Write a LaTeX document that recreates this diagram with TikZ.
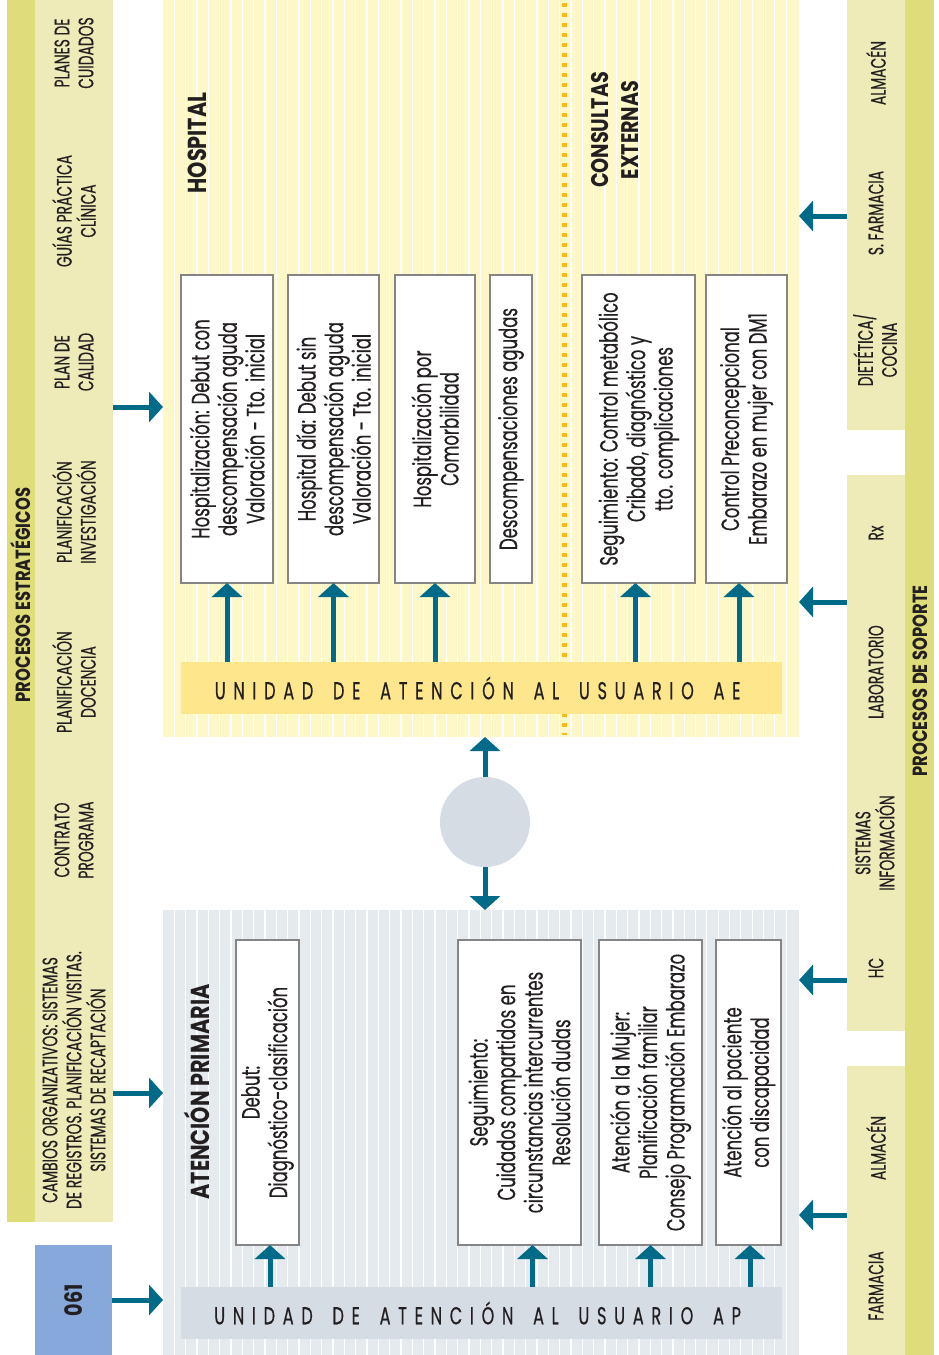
\documentclass[tikz,border=0pt]{standalone}
\usepackage{fontspec}
\setmainfont{Poppins}[FakeStretch=0.66, FakeBold=0.4]
\newfontfamily\headfam{Poppins}[FakeStretch=0.8]
\usetikzlibrary{arrows.meta}

\definecolor{stratdark}{HTML}{DFDC7C}
\definecolor{stratlight}{HTML}{EEEBB9}
\definecolor{hospfill}{HTML}{FEF8C8}
\definecolor{apfill}{HTML}{E5EAEF}
\definecolor{aebarfill}{HTML}{FDE68C}
\definecolor{apbarfill}{HTML}{D5DCE4}
\definecolor{arrowblue}{HTML}{006A89}
\definecolor{dotorange}{HTML}{F9B917}
\definecolor{blueonesix}{HTML}{86A8DA}
\definecolor{boxgrey}{HTML}{858585}
\definecolor{ink}{HTML}{231F20}

\makeatletter
% letter-spaced line of capitals; ~ marks a word gap
\newcommand\spacedcaps[1]{\@tfor\ch:=#1\do{\ch\hskip 7.7pt}\hskip -7.7pt}
\makeatother

\tikzset{
  block/.style={inner sep=0pt, outer sep=0pt, draw=none},
  stepbox/.style={draw=boxgrey, line width=1.5pt, fill=white, rotate=90,
    align=center, inner sep=0pt, outer sep=0pt, text=ink,
    font=\fontsize{25}{27.5}\selectfont},
  slabel/.style={rotate=90, align=center, text=ink, inner sep=0pt,
    font=\fontsize{21}{24}\selectfont},
  heading/.style={rotate=90, align=center, text=ink, inner sep=0pt,
    font=\headfam\bfseries\fontsize{26}{30}\selectfont},
  unitbar/.style={inner sep=0pt, outer sep=0pt, minimum width=601pt,
    minimum height=52pt, text=ink, font=\fontsize{24.5}{24}\selectfont},
  arr/.style={draw=arrowblue, line width=5pt,
    -{Triangle[width=30pt,length=14pt]}},
  stripe/.style={white, line width=1.3pt}
}

\begin{document}
\begin{tikzpicture}[x=1pt, y=-1pt]
\useasboundingbox (0,0) rectangle (939,1355);

% ---- strategic processes column ----
\node[block, fill=stratlight, anchor=north west, minimum width=78pt, minimum height=1222pt] (strat) at (35,0) {};
\node[block, fill=stratdark, anchor=north west, minimum width=28pt, minimum height=1222pt] (stratband) at (7,0) {};
\node[heading, font=\headfam\bfseries\fontsize{20.5}{24}\selectfont] (stratttl) at (21,595) {PROCESOS ESTRATÉGICOS};
\node[slabel] (s1) at (74,53) {PLANES DE\\CUIDADOS};
\node[slabel] (s2) at (74,211) {GUÍAS PRÁCTICA\\CLÍNICA};
\node[slabel] (s3) at (74,362) {PLAN DE\\CALIDAD};
\node[slabel] (s4) at (74,512) {PLANIFICACIÓN\\INVESTIGACIÓN};
\node[slabel] (s5) at (74,682) {PLANIFICACIÓN\\DOCENCIA};
\node[slabel] (s6) at (74,840) {CONTRATO\\PROGRAMA};
\node[slabel] (s7) at (74,1080) {CAMBIOS ORGANIZATIVOS: SISTEMAS\\DE REGISTROS. PLANIFICACIÓN VISITAS.\\SISTEMAS DE RECAPTACIÓN};

% ---- 061 ----
\node[block, fill=blueonesix, rotate=90, minimum width=110pt, minimum height=77pt, text=ink,
      font=\headfam\bfseries\fontsize{24}{26}\selectfont] (n061) at (73.5,1300) {061};

% ---- support processes column ----
\node[block, fill=stratdark, anchor=north west, minimum width=29pt, minimum height=1355pt] (supband) at (905,0) {};
\node[block, fill=stratlight, anchor=north west, minimum width=58pt, minimum height=430pt] (supA) at (847,0) {};
\node[block, fill=stratlight, anchor=north west, minimum width=58pt, minimum height=556pt] (supB) at (847,475) {};
\node[block, fill=stratlight, anchor=north west, minimum width=58pt, minimum height=289pt] (supC) at (847,1066) {};
\node[heading, font=\headfam\bfseries\fontsize{20.5}{24}\selectfont] (supttl) at (920,681) {PROCESOS DE SOPORTE};
\node[slabel] (p1) at (876,73) {ALMACÉN};
\node[slabel] (p2) at (876,213) {S. FARMACIA};
\node[slabel] (p3) at (875,350) {DIETÉTICA/\\COCINA};
\node[slabel] (p4) at (876,533) {Rx};
\node[slabel] (p5) at (876,672) {LABORATORIO};
\node[slabel] (p6) at (875,843) {SISTEMAS\\INFORMACIÓN};
\node[slabel] (p7) at (876,968) {HC};
\node[slabel] (p8) at (876,1148) {ALMACÉN};
\node[slabel] (p9) at (876,1286) {FARMACIA};

% ---- hospital panel ----
\node[block, fill=hospfill, anchor=north west, minimum width=636pt, minimum height=737pt] (hosp) at (163,0) {};
\foreach \k in {1,...,55} \draw[stripe] ({163+11.33*\k},0) -- ++(0,737);
\draw[dotorange, line width=5pt, dash pattern=on 4pt off 6pt] (564,3) -- (564,735);
\node[heading] (hospttl) at (197,143) {HOSPITAL};
\node[heading, font=\headfam\bfseries\fontsize{24}{30}\selectfont] (cettl) at (615,130) {CONSULTAS\\EXTERNAS};

\node[stepbox, minimum width=308pt, minimum height=92pt] (h1) at (227,429)
  {Hospitalización: Debut con\\descompensación aguda\\Valoración - Tto. inicial};
\node[stepbox, minimum width=308pt, minimum height=91pt] (h2) at (333.5,429)
  {Hospital día: Debut sin\\descompensación aguda\\Valoración - Tto. inicial};
\node[stepbox, minimum width=308pt, minimum height=80pt] (h3) at (435,429)
  {Hospitalización por\\Comorbilidad};
\node[stepbox, minimum width=308pt, minimum height=42pt] (h4) at (511,429)
  {Descompensaciones agudas};
\node[stepbox, minimum width=308pt, minimum height=113pt] (h5) at (638.5,429)
  {Seguimiento: Control metabólico\\Cribado, diagnóstico y\\tto. complicaciones};
\node[stepbox, minimum width=308pt, minimum height=81pt] (h6) at (746.5,429)
  {Control Preconcepcional\\Embarazo en mujer con DM1};

\node[unitbar, fill=aebarfill] (ae) at (481.5,688)
  {\spacedcaps{UNIDAD~DE~ATENCIÓN~AL~USUARIO~AE}};

\coordinate (h5a) at ([xshift=-3pt]h5.west);
\coordinate (h6a) at ([xshift=-7.5pt]h6.west);
\draw[arr] (h1.west |- ae.north) -- (h1.west);
\draw[arr] (h2.west |- ae.north) -- (h2.west);
\draw[arr] (h3.west |- ae.north) -- (h3.west);
\draw[arr] (h5a |- ae.north) -- (h5a);
\draw[arr] (h6a |- ae.north) -- (h6a);

% ---- primary care panel ----
\node[block, fill=apfill, anchor=north west, minimum width=636pt, minimum height=445pt] (ap) at (163,910) {};
\foreach \k in {1,...,55} \draw[stripe] ({163+11.33*\k},910) -- ++(0,445);
\node[heading] (apttl) at (197,1092) {ATENCIÓN PRIMARIA};

\node[stepbox, minimum width=305pt, minimum height=63pt] (a1) at (267.5,1092.5)
  {Debut:\\Diagnóstico-clasificación};
\node[stepbox, minimum width=305pt, minimum height=123pt] (a2) at (519.5,1092.5)
  {Seguimiento:\\Cuidados compartidos en\\circunstancias intercurrentes\\Resolución dudas};
\node[stepbox, minimum width=305pt, minimum height=103pt] (a3) at (650.5,1092.5)
  {Atención a la Mujer:\\Planificación familiar\\Consejo Programación Embarazo};
\node[stepbox, minimum width=305pt, minimum height=65pt] (a4) at (748.5,1092.5)
  {Atención al paciente\\con discapacidad};

\node[unitbar, fill=apbarfill] (apu) at (481.5,1313)
  {\spacedcaps{UNIDAD~DE~ATENCIÓN~AL~USUARIO~AP}};

\coordinate (a1a) at ([xshift=2.5pt]a1.west);
\coordinate (a2a) at ([xshift=13pt]a2.west);
\coordinate (a4a) at ([xshift=1.5pt]a4.west);
\draw[arr] (a1a |- apu.north) -- (a1a);
\draw[arr] (a2a |- apu.north) -- (a2a);
\draw[arr] (a3.west |- apu.north) -- (a3.west);
\draw[arr] (a4a |- apu.north) -- (a4a);

% ---- link between levels ----
\node[circle, fill=apbarfill, minimum size=90pt, inner sep=0pt] (hub) at (485,822) {};
\draw[arr] (hub.north) -- (hub.north |- hosp.south);
\draw[arr] (hub.south) -- (hub.south |- ap.north);

% ---- inputs from the side columns ----
\draw[arr] (strat.east |- 0,407) -- (hosp.west |- 0,407);
\draw[arr] (strat.east |- 0,1093) -- (ap.west |- 0,1093);
\draw[arr] (n061.south) -- (ap.west |- n061.south);
\draw[arr] (supA.west |- 0,216) -- (hosp.east |- 0,216);
\draw[arr] (supB.west |- 0,602) -- (hosp.east |- 0,602);
\draw[arr] (supB.west |- 0,980) -- (ap.east |- 0,980);
\draw[arr] (supC.west |- 0,1215) -- (ap.east |- 0,1215);
\end{tikzpicture}
\end{document}
